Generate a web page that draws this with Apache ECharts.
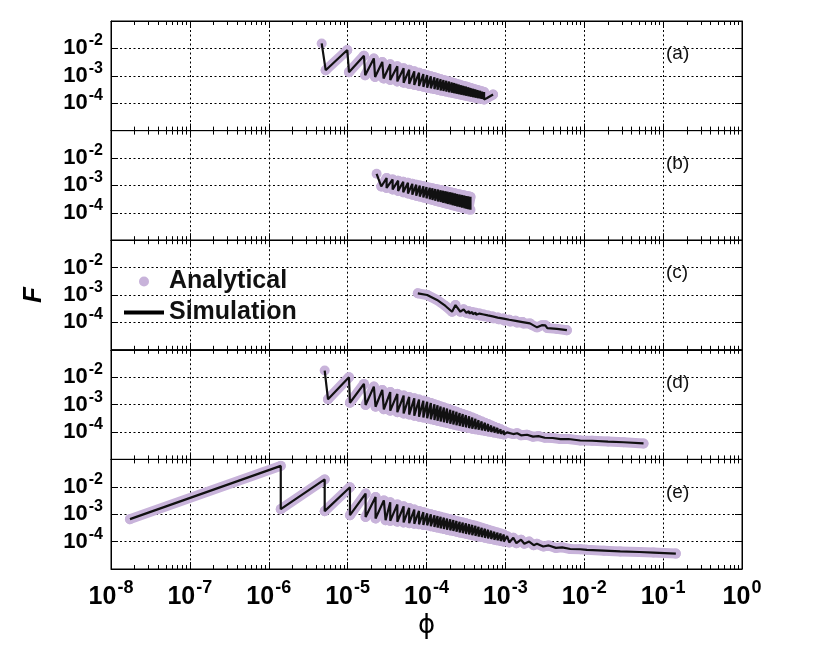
<!DOCTYPE html>
<html>
<head>
<meta charset="utf-8">
<script src="https://cdn.jsdelivr.net/npm/echarts@6/dist/echarts.min.js"></script>
<style>
  html, body { margin: 0; padding: 0; background: #fff; }
  #chart { width: 831px; height: 653px; }
</style>
</head>
<body>
<div id="chart"></div>
<script>
// values: phi (x) and F (y) of the simulation path, one pair of arrays per panel
var phiA = [4.69e-6, 5.27e-6, 9.9e-6, 1.04e-5, 1.61e-5, 1.67e-5, 2.15e-5, 2.23e-5, 2.75e-5, 2.86e-5,
  3.47e-5, 3.47e-5, 4.27e-5, 4.27e-5, 5.13e-5, 5.13e-5, 6.03e-5, 6.03e-5, 7.0e-5, 7.0e-5,
  8.04e-5, 8.04e-5, 9.12e-5, 9.12e-5, 1.02e-4, 1.02e-4, 1.135e-4, 1.135e-4, 1.26e-4, 1.26e-4,
  1.38e-4, 1.38e-4, 1.51e-4, 1.51e-4, 1.64e-4, 1.64e-4, 1.78e-4, 1.78e-4, 1.93e-4, 1.93e-4,
  2.09e-4, 2.09e-4, 2.24e-4, 2.24e-4, 2.40e-4, 2.40e-4, 2.57e-4, 2.57e-4, 2.75e-4, 2.75e-4,
  2.95e-4, 2.95e-4, 3.16e-4, 3.16e-4, 3.39e-4, 3.39e-4, 3.63e-4, 3.63e-4, 3.89e-4, 3.89e-4,
  4.17e-4, 4.17e-4, 4.47e-4, 4.47e-4, 4.79e-4, 4.79e-4, 5.07e-4, 5.07e-4, 5.37e-4, 5.37e-4,
  5.86e-4, 6.98e-4];
var FA = [1.52e-2, 1.6e-3, 8.7e-3, 1.36e-3, 5.4e-3, 1.05e-3, 4.3e-3, 9.1e-4, 3.2e-3, 8.0e-4,
  2.65e-3, 7.08e-4, 2.22e-3, 6.25e-4, 1.90e-3, 5.60e-4, 1.66e-3, 5.08e-4, 1.46e-3, 4.65e-4,
  1.30e-3, 4.28e-4, 1.16e-3, 3.96e-4, 1.05e-3, 3.70e-4, 9.66e-4, 3.48e-4, 8.83e-4, 3.27e-4,
  8.17e-4, 3.09e-4, 7.55e-4, 2.92e-4, 7.05e-4, 2.79e-4, 6.58e-4, 2.65e-4, 6.14e-4, 2.53e-4,
  5.74e-4, 2.41e-4, 5.41e-4, 2.31e-4, 5.09e-4, 2.22e-4, 4.81e-4, 2.13e-4, 4.53e-4, 2.04e-4,
  4.28e-4, 1.96e-4, 4.03e-4, 1.88e-4, 3.79e-4, 1.80e-4, 3.58e-4, 1.73e-4, 3.37e-4, 1.66e-4,
  3.18e-4, 1.59e-4, 3.00e-4, 1.53e-4, 2.82e-4, 1.47e-4, 2.69e-4, 1.42e-4, 2.56e-4, 1.37e-4,
  1.55e-4, 2.07e-4];

var phiB = [2.33e-5, 2.67e-5,
  3.12e-5, 3.12e-5, 3.72e-5, 3.72e-5, 4.37e-5, 4.37e-5, 5.07e-5, 5.07e-5, 5.82e-5, 5.82e-5,
  6.61e-5, 6.61e-5, 7.41e-5, 7.41e-5, 8.22e-5, 8.22e-5, 9.12e-5, 9.12e-5, 1.0e-4, 1.0e-4,
  1.10e-4, 1.10e-4, 1.19e-4, 1.19e-4, 1.29e-4, 1.29e-4, 1.40e-4, 1.40e-4, 1.51e-4, 1.51e-4,
  1.62e-4, 1.62e-4, 1.74e-4, 1.74e-4, 1.86e-4, 1.86e-4, 2.00e-4, 2.00e-4, 2.14e-4, 2.14e-4,
  2.29e-4, 2.29e-4, 2.45e-4, 2.45e-4, 2.63e-4, 2.63e-4, 2.82e-4, 2.82e-4, 3.02e-4, 3.02e-4,
  3.20e-4, 3.20e-4, 3.39e-4, 3.39e-4, 3.61e-4, 3.61e-4];
var FB = [2.66e-3, 9.12e-4,
  1.85e-3, 8.11e-4, 1.65e-3, 7.11e-4, 1.49e-3, 6.30e-4, 1.35e-3, 5.62e-4, 1.24e-3, 5.06e-4,
  1.14e-3, 4.60e-4, 1.06e-3, 4.22e-4, 9.91e-4, 3.90e-4, 9.27e-4, 3.61e-4, 8.73e-4, 3.37e-4,
  8.22e-4, 3.14e-4, 7.82e-4, 2.95e-4, 7.41e-4, 2.78e-4, 7.05e-4, 2.61e-4, 6.68e-4, 2.46e-4,
  6.40e-4, 2.33e-4, 6.12e-4, 2.21e-4, 5.85e-4, 2.10e-4, 5.60e-4, 2.00e-4, 5.36e-4, 1.89e-4,
  5.12e-4, 1.80e-4, 4.90e-4, 1.71e-4, 4.69e-4, 1.62e-4, 4.48e-4, 1.54e-4, 4.29e-4, 1.46e-4,
  4.13e-4, 1.40e-4, 3.98e-4, 1.34e-4, 3.82e-4, 1.28e-4];

var phiC = [7.76e-5, 1.02e-4, 1.36e-4, 1.74e-4, 2.11e-4, 2.33e-4, 2.69e-4, 2.96e-4, 3.2e-4,
  3.45e-4, 3.5e-4, 3.8e-4, 3.85e-4, 4.2e-4, 4.25e-4, 4.7e-4, 4.75e-4, 5.3e-4, 5.35e-4,
  6.0e-4, 6.1e-4, 6.9e-4, 7.0e-4, 8.0e-4, 8.2e-4, 9.5e-4, 9.7e-4, 1.12e-3, 1.15e-3,
  1.35e-3, 1.4e-3, 1.65e-3, 1.7e-3, 2.05e-3, 2.1e-3, 2.52e-3, 2.9e-3, 3.21e-3, 3.4e-3,
  4.5e-3, 6.03e-3];
var FC = [1.15e-3, 1.0e-3, 6.6e-4, 3.98e-4, 2.45e-4, 4.3e-4, 2.45e-4, 3.0e-4, 2.24e-4,
  2.55e-4, 2.1e-4, 2.4e-4, 2.0e-4, 2.25e-4, 1.9e-4, 2.1e-4, 1.8e-4, 1.95e-4, 1.68e-4,
  1.8e-4, 1.55e-4, 1.65e-4, 1.42e-4, 1.5e-4, 1.3e-4, 1.38e-4, 1.18e-4, 1.25e-4, 1.08e-4,
  1.14e-4, 9.9e-5, 1.03e-4, 9.1e-5, 9.2e-5, 8.4e-5, 6.6e-5, 7.9e-5, 7.8e-5, 6.2e-5,
  5.8e-5, 5.2e-5];

var phiD = [5.12e-6, 5.64e-6, 1.04e-5, 1.07e-5, 1.61e-5, 1.69e-5, 2.15e-5, 2.26e-5, 2.75e-5, 2.88e-5,
  3.47e-5, 3.47e-5, 4.27e-5, 4.27e-5, 5.13e-5, 5.13e-5, 6.03e-5, 6.03e-5, 7.0e-5, 7.0e-5,
  8.04e-5, 8.04e-5, 9.12e-5, 9.12e-5, 1.02e-4, 1.02e-4, 1.135e-4, 1.135e-4, 1.26e-4, 1.26e-4,
  1.38e-4, 1.38e-4, 1.51e-4, 1.51e-4, 1.66e-4, 1.66e-4, 1.82e-4, 1.82e-4, 2.00e-4, 2.00e-4,
  2.19e-4, 2.19e-4, 2.40e-4, 2.40e-4, 2.63e-4, 2.63e-4, 2.88e-4, 2.88e-4, 3.16e-4, 3.16e-4,
  3.47e-4, 3.47e-4, 3.80e-4, 3.80e-4, 4.17e-4, 4.17e-4, 4.57e-4, 4.57e-4, 5.01e-4, 5.01e-4,
  5.50e-4, 5.50e-4, 6.03e-4, 6.03e-4, 6.61e-4, 6.61e-4, 7.24e-4, 7.24e-4, 7.94e-4, 7.94e-4,
  8.71e-4, 8.71e-4, 9.55e-4, 9.55e-4,
  1.05e-3, 1.26e-3, 1.41e-3, 1.58e-3, 1.88e-3, 2.24e-3, 2.63e-3, 3.16e-3, 3.98e-3, 5.01e-3,
  6.31e-3, 8.91e-3, 1.26e-2, 2.0e-2, 3.16e-2, 5.64e-2];
var FD = [1.75e-2, 1.56e-3, 1.0e-2, 1.17e-3, 5.69e-3, 9.66e-4, 4.53e-3, 8.37e-4, 3.43e-3, 6.73e-4,
  2.88e-3, 6.01e-4, 2.46e-3, 5.31e-4, 2.14e-3, 4.75e-4, 1.90e-3, 4.32e-4, 1.69e-3, 3.94e-4,
  1.53e-3, 3.63e-4, 1.39e-3, 3.37e-4, 1.27e-3, 3.15e-4, 1.15e-3, 2.93e-4, 1.03e-3, 2.74e-4,
  9.44e-4, 2.57e-4, 8.61e-4, 2.42e-4, 7.85e-4, 2.28e-4, 7.16e-4, 2.14e-4, 6.53e-4, 2.01e-4,
  5.96e-4, 1.89e-4, 5.43e-4, 1.78e-4, 4.95e-4, 1.67e-4, 4.52e-4, 1.57e-4, 4.12e-4, 1.48e-4,
  3.76e-4, 1.39e-4, 3.38e-4, 1.32e-4, 3.03e-4, 1.26e-4, 2.71e-4, 1.21e-4, 2.43e-4, 1.15e-4,
  2.17e-4, 1.10e-4, 1.95e-4, 1.05e-4, 1.74e-4, 1.00e-4, 1.56e-4, 9.5e-5, 1.40e-4, 9.04e-5,
  1.25e-4, 8.57e-5, 1.12e-4, 8.13e-5,
  9.66e-5, 8.41e-5, 9.02e-5, 7.59e-5, 7.94e-5, 6.76e-5, 7.08e-5, 6.17e-5, 6.03e-5, 5.50e-5,
  5.56e-5, 4.90e-5, 4.79e-5, 4.47e-5, 4.22e-5, 3.82e-5];

var phiE = [1.74e-8, 1.42e-6, 1.42e-6, 5.12e-6, 5.12e-6, 1.07e-5, 1.07e-5, 1.69e-5, 1.69e-5,
  2.26e-5, 2.26e-5, 2.88e-5, 3.03e-5,
  3.47e-5, 3.47e-5, 4.27e-5, 4.27e-5, 5.13e-5, 5.13e-5, 6.03e-5, 6.03e-5, 7.0e-5, 7.0e-5,
  8.04e-5, 8.04e-5, 9.12e-5, 9.12e-5, 1.02e-4, 1.02e-4, 1.135e-4, 1.135e-4, 1.26e-4, 1.26e-4,
  1.38e-4, 1.38e-4, 1.51e-4, 1.51e-4, 1.66e-4, 1.66e-4, 1.82e-4, 1.82e-4, 2.00e-4, 2.00e-4,
  2.19e-4, 2.19e-4, 2.40e-4, 2.40e-4, 2.63e-4, 2.63e-4, 2.88e-4, 2.88e-4, 3.16e-4, 3.16e-4,
  3.47e-4, 3.47e-4, 3.80e-4, 3.80e-4, 4.17e-4, 4.17e-4, 4.57e-4, 4.57e-4, 5.01e-4, 5.01e-4,
  5.50e-4, 5.50e-4, 6.03e-4, 6.03e-4, 6.61e-4, 6.61e-4, 7.24e-4, 7.24e-4, 7.94e-4, 7.94e-4,
  8.71e-4, 8.71e-4, 9.55e-4, 9.55e-4,
  1.05e-3, 1.12e-3, 1.26e-3, 1.38e-3, 1.58e-3, 1.74e-3, 2.0e-3, 2.29e-3, 2.51e-3, 3.02e-3,
  3.55e-3, 4.37e-3, 5.25e-3, 6.65e-3, 8.91e-3, 1.08e-2, 1.78e-2, 2.86e-2, 5.01e-2, 7.53e-2,
  1.45e-1];
var FE = [6.6e-4, 5.8e-2, 1.53e-3, 1.86e-2, 1.29e-3, 9.66e-3, 9.18e-4, 5.65e-3, 7.94e-4,
  4.27e-3, 6.93e-4, 3.19e-3, 6.0e-4,
  2.72e-3, 5.71e-4, 2.28e-3, 5.32e-4, 1.94e-3, 4.99e-4, 1.69e-3, 4.71e-4, 1.48e-3, 4.48e-4,
  1.32e-3, 4.27e-4, 1.18e-3, 4.07e-4, 1.07e-3, 3.92e-4, 9.91e-4, 3.66e-4, 9.18e-4, 3.44e-4,
  8.57e-4, 3.24e-4, 8.0e-4, 3.05e-4, 7.48e-4, 2.88e-4, 6.98e-4, 2.72e-4, 6.52e-4, 2.57e-4,
  6.10e-4, 2.43e-4, 5.69e-4, 2.29e-4, 5.31e-4, 2.16e-4, 4.97e-4, 2.04e-4, 4.63e-4, 1.92e-4,
  4.34e-4, 1.82e-4, 4.05e-4, 1.71e-4, 3.76e-4, 1.62e-4, 3.47e-4, 1.53e-4, 3.19e-4, 1.46e-4,
  2.94e-4, 1.38e-4, 2.72e-4, 1.31e-4, 2.51e-4, 1.24e-4, 2.31e-4, 1.17e-4, 2.13e-4, 1.11e-4,
  1.97e-4, 1.05e-4, 1.82e-4, 9.98e-5,
  1.58e-4, 9.33e-5, 1.38e-4, 8.71e-5, 1.17e-4, 8.32e-5, 1.0e-4, 7.41e-5, 8.32e-5, 6.61e-5,
  7.24e-5, 5.89e-5, 6.17e-5, 5.37e-5, 5.25e-5, 5.01e-5, 4.68e-5, 4.37e-5, 4.17e-5, 3.98e-5,
  3.65e-5];

var panelLabels = ['(a)', '(b)', '(c)', '(d)', '(e)'];
var panelPhi = [phiA, phiB, phiC, phiD, phiE];
var panelF = [FA, FB, FC, FD, FE];

var PURPLE = '#c8b3da';
var FONT = '"Liberation Sans", Arial, Helvetica, sans-serif';
var panelTop = [21, 130.6, 240.2, 349.8, 459.4];
var panelH = 109.6;

function simPath(phi, F) {
    var out = [];
    for (var k = 0; k < phi.length; k++) out.push([phi[k], F[k]]);
    return out;
}

// analytical band: same points, but no band along the steep drops
function analyticPath(phi, F) {
    var out = [[phi[0], F[0]]];
    for (var k = 1; k < phi.length; k++) {
        var dF = Math.log10(F[k] / F[k - 1]);
        var dP = Math.log10(phi[k] / phi[k - 1]);
        if (dF < 0 && (dP <= 0 || dF / dP < -3)) out.push([phi[k], '-']);
        out.push([phi[k], F[k]]);
    }
    return out;
}

function expOf(v) { return Math.round(Math.log(v) / Math.LN10); }

var dotted = { color: '#000', width: 1, type: [2, 2.5] };
var black = { color: '#000', width: 1 };

var grids = [], xAxes = [], yAxes = [], series = [], graphics = [];
for (var i = 0; i < 5; i++) {
    grids.push({
        left: 111, right: 89, top: panelTop[i], height: panelH,
        show: true, borderColor: '#000', borderWidth: 1, backgroundColor: 'transparent'
    });
    ['bottom', 'top'].forEach(function (pos) {
        xAxes.push({
            type: 'log', logBase: 10, gridIndex: i, position: pos, min: 1e-8, max: 1,
            axisLine: { show: true, onZero: false, lineStyle: black },
            axisTick: { show: true, inside: true, length: 7, lineStyle: black },
            minorTick: { show: true, splitNumber: 9, length: 4, lineStyle: black },
            splitLine: { show: pos === 'bottom', lineStyle: dotted },
            name: (pos === 'bottom' && i === 4) ? 'ϕ' : '',
            nameLocation: 'middle', nameGap: 44,
            nameTextStyle: { fontSize: 26, color: '#000', fontFamily: '"DejaVu Sans", sans-serif' },
            axisLabel: {
                show: pos === 'bottom' && i === 4,
                showMinLabel: true, showMaxLabel: true,
                margin: 10, color: '#000',
                formatter: function (v) { return '{b|10}{s|' + expOf(v) + '}'; },
                rich: {
                    b: { fontSize: 25, fontWeight: 'bold', fontFamily: FONT, color: '#000' },
                    s: { fontSize: 18, fontWeight: 'bold', fontFamily: FONT, color: '#000', padding: [0, 0, 18, 1] }
                }
            }
        });
    });
    ['left', 'right'].forEach(function (pos) {
        yAxes.push({
            type: 'log', logBase: 10, gridIndex: i, position: pos, min: 1e-5, max: 1e-1,
            axisLine: { show: true, onZero: false, lineStyle: black },
            axisTick: { show: true, inside: true, length: 7, lineStyle: black },
            splitLine: { show: pos === 'left', lineStyle: dotted },
            name: (pos === 'left' && i === 2) ? 'F' : '',
            nameLocation: 'middle', nameGap: 64, nameRotate: 90,
            nameTextStyle: { fontSize: 26, fontWeight: 'bold', fontStyle: 'italic', color: '#000', fontFamily: FONT },
            axisLabel: {
                show: pos === 'left', margin: 8, color: '#000',
                formatter: function (v) {
                    var e = expOf(v);
                    if (e < -4 || e > -2) return '';
                    return '{b|10}{s|' + e + '}';
                },
                rich: {
                    b: { fontSize: 22, fontWeight: 'bold', fontFamily: FONT, color: '#000' },
                    s: { fontSize: 16, fontWeight: 'bold', fontFamily: FONT, color: '#000', padding: [0, 0, 15, 1] }
                }
            }
        });
    });
    series.push({
        name: 'Analytical', type: 'line', xAxisIndex: 2 * i, yAxisIndex: 2 * i,
        data: analyticPath(panelPhi[i], panelF[i]),
        symbol: 'circle', symbolSize: 10, showSymbol: true, connectNulls: false, silent: true, z: 2,
        itemStyle: { color: PURPLE },
        lineStyle: { color: PURPLE, width: 10, cap: 'round', join: 'round' }
    });
    series.push({
        name: 'Simulation', type: 'line', xAxisIndex: 2 * i, yAxisIndex: 2 * i,
        data: simPath(panelPhi[i], panelF[i]),
        symbol: 'none', showSymbol: false, silent: true, z: 3,
        itemStyle: { color: '#000' },
        lineStyle: { color: '#111', width: 2.2 }
    });
    graphics.push({
        type: 'text', x: 666, y: panelTop[i] + 33,
        style: { text: panelLabels[i], fill: '#111', font: '19px ' + FONT, verticalAlign: 'middle' }
    });
}

var legendText = { fontSize: 25, fontWeight: 'bold', color: '#111', fontFamily: FONT };
var option = {
    animation: false,
    backgroundColor: '#fff',
    grid: grids,
    xAxis: xAxes,
    yAxis: yAxes,
    legend: [
        { data: [{ name: 'Analytical', icon: 'circle' }], left: 139, top: 269, padding: 0,
          itemWidth: 40, itemHeight: 10, selectedMode: false, textStyle: legendText },
        { data: [{ name: 'Simulation', icon: 'rect' }], left: 124, top: 300, padding: 0,
          itemWidth: 40, itemHeight: 4, selectedMode: false, textStyle: legendText }
    ],
    graphic: graphics,
    series: series
};

var chart = echarts.init(document.getElementById('chart'));
chart.setOption(option);
</script>
</body>
</html>
